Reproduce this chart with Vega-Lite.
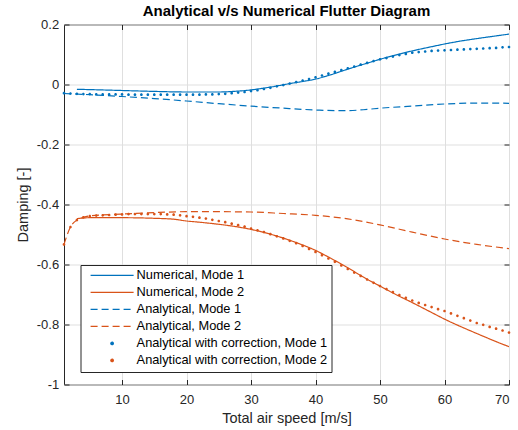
{
  "$schema": "https://vega.github.io/schema/vega-lite/v6.json",
  "width": 445,
  "height": 360,
  "autosize": {"type": "none"},
  "padding": {"left": 64, "top": 24.5, "right": 9, "bottom": 45.5},
  "background": "white",
  "title": {"text": "Analytical v/s Numerical Flutter Diagram", "font": "Liberation Sans", "fontSize": 15, "fontWeight": "bold", "color": "#000000", "anchor": "middle", "baseline": "alphabetic", "offset": 1, "dy": 13},
  "config": {
    "view": {"stroke": "#262626", "strokeWidth": 1},
    "axis": {"labelFont": "Liberation Sans", "labelFontSize": 13, "labelColor": "#262626", "titleFont": "Liberation Sans", "titleFontSize": 14.5, "titleFontWeight": "normal", "titleColor": "#262626", "gridColor": "#dfdfdf", "gridWidth": 1, "tickColor": "#262626", "tickWidth": 1, "domain": false},
    "legend": {"labelFont": "Liberation Sans", "labelFontSize": 12.8, "labelColor": "#000000", "labelLimit": 400}
  },
  "data": {"values": [
    {"s": "Numerical, Mode 1", "x": 3, "y": -0.016},
    {"s": "Numerical, Mode 1", "x": 5, "y": -0.017},
    {"s": "Numerical, Mode 1", "x": 10, "y": -0.02},
    {"s": "Numerical, Mode 1", "x": 15, "y": -0.023},
    {"s": "Numerical, Mode 1", "x": 20, "y": -0.025},
    {"s": "Numerical, Mode 1", "x": 25, "y": -0.025},
    {"s": "Numerical, Mode 1", "x": 28, "y": -0.022},
    {"s": "Numerical, Mode 1", "x": 30, "y": -0.018},
    {"s": "Numerical, Mode 1", "x": 32, "y": -0.012},
    {"s": "Numerical, Mode 1", "x": 34, "y": -0.005},
    {"s": "Numerical, Mode 1", "x": 36, "y": 0.003},
    {"s": "Numerical, Mode 1", "x": 38, "y": 0.01},
    {"s": "Numerical, Mode 1", "x": 40, "y": 0.018},
    {"s": "Numerical, Mode 1", "x": 42, "y": 0.03},
    {"s": "Numerical, Mode 1", "x": 44, "y": 0.044},
    {"s": "Numerical, Mode 1", "x": 46, "y": 0.058},
    {"s": "Numerical, Mode 1", "x": 48, "y": 0.071},
    {"s": "Numerical, Mode 1", "x": 50, "y": 0.084},
    {"s": "Numerical, Mode 1", "x": 52, "y": 0.096},
    {"s": "Numerical, Mode 1", "x": 55, "y": 0.112},
    {"s": "Numerical, Mode 1", "x": 58, "y": 0.126},
    {"s": "Numerical, Mode 1", "x": 60, "y": 0.135},
    {"s": "Numerical, Mode 1", "x": 62, "y": 0.143},
    {"s": "Numerical, Mode 1", "x": 65, "y": 0.153},
    {"s": "Numerical, Mode 1", "x": 68, "y": 0.162},
    {"s": "Numerical, Mode 1", "x": 70, "y": 0.168},
    {"s": "Numerical, Mode 2", "x": 3, "y": -0.447},
    {"s": "Numerical, Mode 2", "x": 5, "y": -0.444},
    {"s": "Numerical, Mode 2", "x": 10, "y": -0.444},
    {"s": "Numerical, Mode 2", "x": 15, "y": -0.446},
    {"s": "Numerical, Mode 2", "x": 18, "y": -0.449},
    {"s": "Numerical, Mode 2", "x": 20, "y": -0.455},
    {"s": "Numerical, Mode 2", "x": 22, "y": -0.459},
    {"s": "Numerical, Mode 2", "x": 25, "y": -0.466},
    {"s": "Numerical, Mode 2", "x": 28, "y": -0.475},
    {"s": "Numerical, Mode 2", "x": 30, "y": -0.483},
    {"s": "Numerical, Mode 2", "x": 32, "y": -0.493},
    {"s": "Numerical, Mode 2", "x": 35, "y": -0.512},
    {"s": "Numerical, Mode 2", "x": 38, "y": -0.535},
    {"s": "Numerical, Mode 2", "x": 40, "y": -0.553},
    {"s": "Numerical, Mode 2", "x": 42, "y": -0.575},
    {"s": "Numerical, Mode 2", "x": 45, "y": -0.611},
    {"s": "Numerical, Mode 2", "x": 48, "y": -0.649},
    {"s": "Numerical, Mode 2", "x": 50, "y": -0.672},
    {"s": "Numerical, Mode 2", "x": 52, "y": -0.695},
    {"s": "Numerical, Mode 2", "x": 55, "y": -0.727},
    {"s": "Numerical, Mode 2", "x": 58, "y": -0.76},
    {"s": "Numerical, Mode 2", "x": 60, "y": -0.782},
    {"s": "Numerical, Mode 2", "x": 62, "y": -0.802},
    {"s": "Numerical, Mode 2", "x": 65, "y": -0.83},
    {"s": "Numerical, Mode 2", "x": 68, "y": -0.857},
    {"s": "Numerical, Mode 2", "x": 70, "y": -0.874},
    {"s": "Analytical, Mode 1", "x": 1, "y": -0.03},
    {"s": "Analytical, Mode 1", "x": 5, "y": -0.034},
    {"s": "Analytical, Mode 1", "x": 10, "y": -0.04},
    {"s": "Analytical, Mode 1", "x": 15, "y": -0.047},
    {"s": "Analytical, Mode 1", "x": 20, "y": -0.055},
    {"s": "Analytical, Mode 1", "x": 25, "y": -0.064},
    {"s": "Analytical, Mode 1", "x": 30, "y": -0.072},
    {"s": "Analytical, Mode 1", "x": 35, "y": -0.079},
    {"s": "Analytical, Mode 1", "x": 40, "y": -0.085},
    {"s": "Analytical, Mode 1", "x": 43, "y": -0.087},
    {"s": "Analytical, Mode 1", "x": 45, "y": -0.087},
    {"s": "Analytical, Mode 1", "x": 48, "y": -0.083},
    {"s": "Analytical, Mode 1", "x": 50, "y": -0.079},
    {"s": "Analytical, Mode 1", "x": 55, "y": -0.072},
    {"s": "Analytical, Mode 1", "x": 60, "y": -0.065},
    {"s": "Analytical, Mode 1", "x": 65, "y": -0.062},
    {"s": "Analytical, Mode 1", "x": 68, "y": -0.062},
    {"s": "Analytical, Mode 1", "x": 70, "y": -0.063},
    {"s": "Analytical, Mode 2", "x": 1, "y": -0.533},
    {"s": "Analytical, Mode 2", "x": 2, "y": -0.475},
    {"s": "Analytical, Mode 2", "x": 3, "y": -0.452},
    {"s": "Analytical, Mode 2", "x": 4, "y": -0.443},
    {"s": "Analytical, Mode 2", "x": 5, "y": -0.438},
    {"s": "Analytical, Mode 2", "x": 10, "y": -0.432},
    {"s": "Analytical, Mode 2", "x": 15, "y": -0.427},
    {"s": "Analytical, Mode 2", "x": 20, "y": -0.424},
    {"s": "Analytical, Mode 2", "x": 25, "y": -0.424},
    {"s": "Analytical, Mode 2", "x": 30, "y": -0.425},
    {"s": "Analytical, Mode 2", "x": 35, "y": -0.43},
    {"s": "Analytical, Mode 2", "x": 40, "y": -0.436},
    {"s": "Analytical, Mode 2", "x": 45, "y": -0.448},
    {"s": "Analytical, Mode 2", "x": 50, "y": -0.468},
    {"s": "Analytical, Mode 2", "x": 55, "y": -0.492},
    {"s": "Analytical, Mode 2", "x": 60, "y": -0.515},
    {"s": "Analytical, Mode 2", "x": 65, "y": -0.533},
    {"s": "Analytical, Mode 2", "x": 70, "y": -0.547},
    {"s": "Analytical with correction, Mode 1", "x": 1, "y": -0.029},
    {"s": "Analytical with correction, Mode 1", "x": 2, "y": -0.03},
    {"s": "Analytical with correction, Mode 1", "x": 3, "y": -0.031},
    {"s": "Analytical with correction, Mode 1", "x": 4, "y": -0.032},
    {"s": "Analytical with correction, Mode 1", "x": 5, "y": -0.032},
    {"s": "Analytical with correction, Mode 1", "x": 6, "y": -0.033},
    {"s": "Analytical with correction, Mode 1", "x": 7, "y": -0.033},
    {"s": "Analytical with correction, Mode 1", "x": 8, "y": -0.033},
    {"s": "Analytical with correction, Mode 1", "x": 9, "y": -0.033},
    {"s": "Analytical with correction, Mode 1", "x": 10, "y": -0.033},
    {"s": "Analytical with correction, Mode 1", "x": 11, "y": -0.034},
    {"s": "Analytical with correction, Mode 1", "x": 12, "y": -0.034},
    {"s": "Analytical with correction, Mode 1", "x": 13, "y": -0.034},
    {"s": "Analytical with correction, Mode 1", "x": 14, "y": -0.034},
    {"s": "Analytical with correction, Mode 1", "x": 15, "y": -0.034},
    {"s": "Analytical with correction, Mode 1", "x": 16, "y": -0.034},
    {"s": "Analytical with correction, Mode 1", "x": 17, "y": -0.034},
    {"s": "Analytical with correction, Mode 1", "x": 18, "y": -0.034},
    {"s": "Analytical with correction, Mode 1", "x": 19, "y": -0.034},
    {"s": "Analytical with correction, Mode 1", "x": 20, "y": -0.034},
    {"s": "Analytical with correction, Mode 1", "x": 21, "y": -0.034},
    {"s": "Analytical with correction, Mode 1", "x": 22, "y": -0.034},
    {"s": "Analytical with correction, Mode 1", "x": 23, "y": -0.033},
    {"s": "Analytical with correction, Mode 1", "x": 24, "y": -0.033},
    {"s": "Analytical with correction, Mode 1", "x": 25, "y": -0.032},
    {"s": "Analytical with correction, Mode 1", "x": 26, "y": -0.031},
    {"s": "Analytical with correction, Mode 1", "x": 27, "y": -0.029},
    {"s": "Analytical with correction, Mode 1", "x": 28, "y": -0.027},
    {"s": "Analytical with correction, Mode 1", "x": 29, "y": -0.025},
    {"s": "Analytical with correction, Mode 1", "x": 30, "y": -0.022},
    {"s": "Analytical with correction, Mode 1", "x": 31, "y": -0.019},
    {"s": "Analytical with correction, Mode 1", "x": 32, "y": -0.015},
    {"s": "Analytical with correction, Mode 1", "x": 33, "y": -0.011},
    {"s": "Analytical with correction, Mode 1", "x": 34, "y": -0.006},
    {"s": "Analytical with correction, Mode 1", "x": 35, "y": -0.002},
    {"s": "Analytical with correction, Mode 1", "x": 36, "y": 0.003},
    {"s": "Analytical with correction, Mode 1", "x": 37, "y": 0.008},
    {"s": "Analytical with correction, Mode 1", "x": 38, "y": 0.013},
    {"s": "Analytical with correction, Mode 1", "x": 39, "y": 0.018},
    {"s": "Analytical with correction, Mode 1", "x": 40, "y": 0.024},
    {"s": "Analytical with correction, Mode 1", "x": 41, "y": 0.03},
    {"s": "Analytical with correction, Mode 1", "x": 42, "y": 0.036},
    {"s": "Analytical with correction, Mode 1", "x": 43, "y": 0.042},
    {"s": "Analytical with correction, Mode 1", "x": 44, "y": 0.048},
    {"s": "Analytical with correction, Mode 1", "x": 45, "y": 0.054},
    {"s": "Analytical with correction, Mode 1", "x": 46, "y": 0.06},
    {"s": "Analytical with correction, Mode 1", "x": 47, "y": 0.066},
    {"s": "Analytical with correction, Mode 1", "x": 48, "y": 0.072},
    {"s": "Analytical with correction, Mode 1", "x": 49, "y": 0.078},
    {"s": "Analytical with correction, Mode 1", "x": 50, "y": 0.084},
    {"s": "Analytical with correction, Mode 1", "x": 51, "y": 0.088},
    {"s": "Analytical with correction, Mode 1", "x": 52, "y": 0.093},
    {"s": "Analytical with correction, Mode 1", "x": 53, "y": 0.098},
    {"s": "Analytical with correction, Mode 1", "x": 54, "y": 0.102},
    {"s": "Analytical with correction, Mode 1", "x": 55, "y": 0.106},
    {"s": "Analytical with correction, Mode 1", "x": 56, "y": 0.108},
    {"s": "Analytical with correction, Mode 1", "x": 57, "y": 0.11},
    {"s": "Analytical with correction, Mode 1", "x": 58, "y": 0.112},
    {"s": "Analytical with correction, Mode 1", "x": 59, "y": 0.113},
    {"s": "Analytical with correction, Mode 1", "x": 60, "y": 0.114},
    {"s": "Analytical with correction, Mode 1", "x": 61, "y": 0.115},
    {"s": "Analytical with correction, Mode 1", "x": 62, "y": 0.116},
    {"s": "Analytical with correction, Mode 1", "x": 63, "y": 0.117},
    {"s": "Analytical with correction, Mode 1", "x": 64, "y": 0.118},
    {"s": "Analytical with correction, Mode 1", "x": 65, "y": 0.119},
    {"s": "Analytical with correction, Mode 1", "x": 66, "y": 0.12},
    {"s": "Analytical with correction, Mode 1", "x": 67, "y": 0.121},
    {"s": "Analytical with correction, Mode 1", "x": 68, "y": 0.122},
    {"s": "Analytical with correction, Mode 1", "x": 69, "y": 0.124},
    {"s": "Analytical with correction, Mode 1", "x": 70, "y": 0.125},
    {"s": "Analytical with correction, Mode 2", "x": 1, "y": -0.533},
    {"s": "Analytical with correction, Mode 2", "x": 2, "y": -0.475},
    {"s": "Analytical with correction, Mode 2", "x": 3, "y": -0.452},
    {"s": "Analytical with correction, Mode 2", "x": 4, "y": -0.443},
    {"s": "Analytical with correction, Mode 2", "x": 5, "y": -0.439},
    {"s": "Analytical with correction, Mode 2", "x": 6, "y": -0.437},
    {"s": "Analytical with correction, Mode 2", "x": 7, "y": -0.436},
    {"s": "Analytical with correction, Mode 2", "x": 8, "y": -0.435},
    {"s": "Analytical with correction, Mode 2", "x": 9, "y": -0.434},
    {"s": "Analytical with correction, Mode 2", "x": 10, "y": -0.433},
    {"s": "Analytical with correction, Mode 2", "x": 11, "y": -0.432},
    {"s": "Analytical with correction, Mode 2", "x": 12, "y": -0.432},
    {"s": "Analytical with correction, Mode 2", "x": 13, "y": -0.432},
    {"s": "Analytical with correction, Mode 2", "x": 14, "y": -0.432},
    {"s": "Analytical with correction, Mode 2", "x": 15, "y": -0.432},
    {"s": "Analytical with correction, Mode 2", "x": 16, "y": -0.432},
    {"s": "Analytical with correction, Mode 2", "x": 17, "y": -0.433},
    {"s": "Analytical with correction, Mode 2", "x": 18, "y": -0.434},
    {"s": "Analytical with correction, Mode 2", "x": 19, "y": -0.436},
    {"s": "Analytical with correction, Mode 2", "x": 20, "y": -0.439},
    {"s": "Analytical with correction, Mode 2", "x": 21, "y": -0.441},
    {"s": "Analytical with correction, Mode 2", "x": 22, "y": -0.444},
    {"s": "Analytical with correction, Mode 2", "x": 23, "y": -0.447},
    {"s": "Analytical with correction, Mode 2", "x": 24, "y": -0.451},
    {"s": "Analytical with correction, Mode 2", "x": 25, "y": -0.455},
    {"s": "Analytical with correction, Mode 2", "x": 26, "y": -0.459},
    {"s": "Analytical with correction, Mode 2", "x": 27, "y": -0.464},
    {"s": "Analytical with correction, Mode 2", "x": 28, "y": -0.469},
    {"s": "Analytical with correction, Mode 2", "x": 29, "y": -0.474},
    {"s": "Analytical with correction, Mode 2", "x": 30, "y": -0.48},
    {"s": "Analytical with correction, Mode 2", "x": 31, "y": -0.486},
    {"s": "Analytical with correction, Mode 2", "x": 32, "y": -0.492},
    {"s": "Analytical with correction, Mode 2", "x": 33, "y": -0.499},
    {"s": "Analytical with correction, Mode 2", "x": 34, "y": -0.506},
    {"s": "Analytical with correction, Mode 2", "x": 35, "y": -0.513},
    {"s": "Analytical with correction, Mode 2", "x": 36, "y": -0.521},
    {"s": "Analytical with correction, Mode 2", "x": 37, "y": -0.529},
    {"s": "Analytical with correction, Mode 2", "x": 38, "y": -0.538},
    {"s": "Analytical with correction, Mode 2", "x": 39, "y": -0.548},
    {"s": "Analytical with correction, Mode 2", "x": 40, "y": -0.558},
    {"s": "Analytical with correction, Mode 2", "x": 41, "y": -0.569},
    {"s": "Analytical with correction, Mode 2", "x": 42, "y": -0.58},
    {"s": "Analytical with correction, Mode 2", "x": 43, "y": -0.591},
    {"s": "Analytical with correction, Mode 2", "x": 44, "y": -0.603},
    {"s": "Analytical with correction, Mode 2", "x": 45, "y": -0.615},
    {"s": "Analytical with correction, Mode 2", "x": 46, "y": -0.627},
    {"s": "Analytical with correction, Mode 2", "x": 47, "y": -0.638},
    {"s": "Analytical with correction, Mode 2", "x": 48, "y": -0.65},
    {"s": "Analytical with correction, Mode 2", "x": 49, "y": -0.661},
    {"s": "Analytical with correction, Mode 2", "x": 50, "y": -0.672},
    {"s": "Analytical with correction, Mode 2", "x": 51, "y": -0.682},
    {"s": "Analytical with correction, Mode 2", "x": 52, "y": -0.692},
    {"s": "Analytical with correction, Mode 2", "x": 53, "y": -0.702},
    {"s": "Analytical with correction, Mode 2", "x": 54, "y": -0.711},
    {"s": "Analytical with correction, Mode 2", "x": 55, "y": -0.72},
    {"s": "Analytical with correction, Mode 2", "x": 56, "y": -0.728},
    {"s": "Analytical with correction, Mode 2", "x": 57, "y": -0.735},
    {"s": "Analytical with correction, Mode 2", "x": 58, "y": -0.742},
    {"s": "Analytical with correction, Mode 2", "x": 59, "y": -0.749},
    {"s": "Analytical with correction, Mode 2", "x": 60, "y": -0.755},
    {"s": "Analytical with correction, Mode 2", "x": 61, "y": -0.763},
    {"s": "Analytical with correction, Mode 2", "x": 62, "y": -0.771},
    {"s": "Analytical with correction, Mode 2", "x": 63, "y": -0.779},
    {"s": "Analytical with correction, Mode 2", "x": 64, "y": -0.787},
    {"s": "Analytical with correction, Mode 2", "x": 65, "y": -0.795},
    {"s": "Analytical with correction, Mode 2", "x": 66, "y": -0.801},
    {"s": "Analytical with correction, Mode 2", "x": 67, "y": -0.808},
    {"s": "Analytical with correction, Mode 2", "x": 68, "y": -0.814},
    {"s": "Analytical with correction, Mode 2", "x": 69, "y": -0.82},
    {"s": "Analytical with correction, Mode 2", "x": 70, "y": -0.827}
  ]},
  "layer": [
    {
      "transform": [{"filter": "indexof(datum.s, 'correction') < 0"}],
      "mark": {"type": "line", "strokeWidth": 1.2, "interpolate": "monotone", "clip": true},
      "encoding": {
        "x": {"field": "x", "type": "quantitative", "scale": {"domain": [1, 70], "nice": false, "zero": false},
              "axis": {"orient": "bottom", "values": [10, 20, 30, 40, 50, 60, 70], "grid": true, "tickSize": -5, "labelPadding": 14, "title": "Total air speed [m/s]", "titlePadding": 4.5}},
        "y": {"field": "y", "type": "quantitative", "scale": {"domain": [-1, 0.2], "nice": false, "zero": false},
              "axis": {"orient": "left", "values": [-1, -0.8, -0.6, -0.4, -0.2, 0, 0.2], "grid": true, "tickSize": -5, "labelPadding": 10.3, "title": "Damping [-]", "titlePadding": 6,
                       "labelExpr": "(datum.value < 0 ? '-' : '') + format(abs(datum.value), '.1~f')"}},
        "color": {"field": "s", "type": "nominal",
                  "scale": {"domain": ["Numerical, Mode 1", "Numerical, Mode 2", "Analytical, Mode 1", "Analytical, Mode 2", "Analytical with correction, Mode 1", "Analytical with correction, Mode 2"],
                            "range": ["#0072BD", "#D95319", "#0072BD", "#D95319", "#0072BD", "#D95319"]},
                  "legend": {"title": null, "orient": "none", "legendX": 16.5, "legendY": 240.5, "padding": 4, "symbolOffset": 21.2, "labelOffset": 18.1, "rowPadding": 3, "labelLimit": 400,
                             "strokeColor": "#262626", "fillColor": "#ffffff", "symbolSize": 74, "symbolStrokeWidth": 1.2,
                             "encode": {"symbols": {"update": {"fill": {"scale": "color", "field": "value"}, "stroke": {"scale": "color", "field": "value"}, "size": {"value": 74}, "strokeWidth": {"value": 1.2}, "opacity": {"value": 1}}}}}},
        "strokeDash": {"field": "s", "type": "nominal",
                  "scale": {"domain": ["Numerical, Mode 1", "Numerical, Mode 2", "Analytical, Mode 1", "Analytical, Mode 2", "Analytical with correction, Mode 1", "Analytical with correction, Mode 2"],
                            "range": [[1, 0], [1, 0], [7, 4], [7, 4], [1, 0], [1, 0]]},
                  "legend": {"title": null, "orient": "none", "legendX": 16.5, "legendY": 240.5}}
      }
    },
    {
      "transform": [{"filter": "indexof(datum.s, 'correction') >= 0"}],
      "mark": {"type": "point", "filled": true, "size": 80, "strokeWidth": 0, "opacity": 1},
      "encoding": {
        "x": {"field": "x", "type": "quantitative",
              "axis": {"orient": "top", "values": [10, 20, 30, 40, 50, 60, 70], "grid": false, "labels": false, "tickSize": -5, "title": null}},
        "y": {"field": "y", "type": "quantitative",
              "axis": {"orient": "right", "values": [-1, -0.8, -0.6, -0.4, -0.2, 0, 0.2], "grid": false, "labels": false, "tickSize": -5, "title": null}},
        "color": {"field": "s", "type": "nominal"},
        "shape": {"field": "s", "type": "nominal",
                  "scale": {"domain": ["Numerical, Mode 1", "Numerical, Mode 2", "Analytical, Mode 1", "Analytical, Mode 2", "Analytical with correction, Mode 1", "Analytical with correction, Mode 2"],
                            "range": ["M-5,0H5", "M-5,0H5", "M-5,0H5", "M-5,0H5", "M-0.3,0A0.3,0.3,0,1,1,0.3,0A0.3,0.3,0,1,1,-0.3,0Z", "M-0.3,0A0.3,0.3,0,1,1,0.3,0A0.3,0.3,0,1,1,-0.3,0Z"]},
                  "legend": {"title": null, "orient": "none", "legendX": 16.5, "legendY": 240.5}}
      }
    }
  ],
  "resolve": {"axis": {"x": "independent", "y": "independent"}}
}
